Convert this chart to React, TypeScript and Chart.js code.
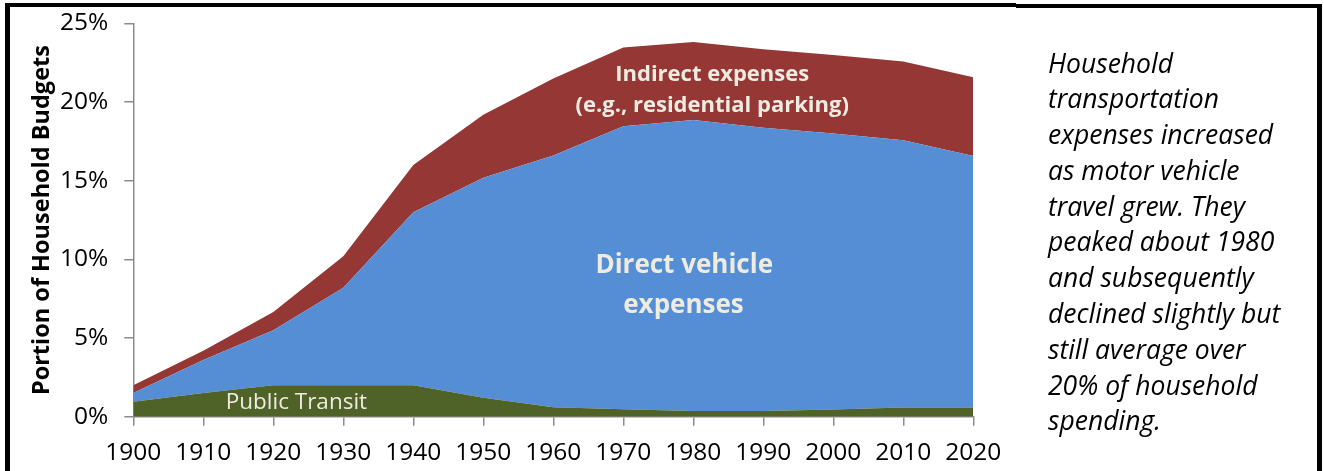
import React, { useEffect, useRef } from "react";
import { Chart, registerables } from "chart.js";

Chart.register(...registerables);

const YEARS = ["1900", "1910", "1920", "1930", "1940", "1950", "1960", "1970", "1980", "1990", "2000", "2010", "2020"];
const PUBLIC_TRANSIT = [0.95, 1.5, 2.0, 2.0, 2.0, 1.2, 0.6, 0.47, 0.37, 0.37, 0.45, 0.58, 0.58];
const DIRECT_VEHICLE = [0.55, 2.1, 3.5, 6.2, 11.0, 14.0, 16.0, 18.0, 18.5, 18.0, 17.55, 17.0, 16.0];
const INDIRECT = [0.5, 0.6, 1.15, 2.0, 3.0, 4.0, 4.9, 5.0, 4.95, 5.0, 5.0, 5.0, 5.0];
const Y_MAX = 25;
const Y_STEP = 5;

const SIDE_NOTE = [
  "Household",
  "transportation",
  "expenses increased",
  "as motor vehicle",
  "travel grew. They",
  "peaked about 1980",
  "and subsequently",
  "declined slightly but",
  "still average over",
  "20% of household",
  "spending.",
];

// area labels placed in data coordinates (x = category index, y = value)
const AREA_LABELS = [
  { text: "Indirect expenses", x: 8.27, y: 21.36, font: "bold 22px 'Open Sans'" },
  { text: "(e.g., residential parking)", x: 8.27, y: 19.39, font: "bold 22px 'Open Sans'" },
  { text: "Direct vehicle", x: 7.87, y: 9.12, font: "bold 26px 'Open Sans'" },
  { text: "expenses", x: 7.86, y: 6.61, font: "bold 26px 'Open Sans'" },
  { text: "Public Transit", x: 2.33, y: 0.47, font: "22.5px 'Open Sans'" },
];

const areaLabelPlugin = {
  id: "areaLabels",
  afterDatasetsDraw(chart: any) {
    const { ctx, scales } = chart;
    ctx.save();
    ctx.fillStyle = "#EEECE1";
    ctx.textAlign = "center";
    ctx.textBaseline = "alphabetic";
    for (const l of AREA_LABELS) {
      ctx.font = l.font;
      ctx.fillText(l.text, scales.x.getPixelForValue(l.x), scales.y.getPixelForValue(l.y));
    }
    ctx.restore();
  },
};

export default function App() {
  const ref = useRef<HTMLCanvasElement | null>(null);

  useEffect(() => {
    if (!ref.current) return;
    const chart = new Chart(ref.current, {
      type: "line",
      data: {
        labels: YEARS,
        datasets: [
          {
            label: "Public Transit",
            data: PUBLIC_TRANSIT,
            backgroundColor: "#4F6228",
            borderColor: "rgba(0,0,0,0)",
            borderWidth: 0,
            pointRadius: 0,
            fill: "origin",
            tension: 0,
          },
          {
            label: "Direct vehicle expenses",
            data: DIRECT_VEHICLE,
            backgroundColor: "#558ED5",
            borderColor: "rgba(0,0,0,0)",
            borderWidth: 0,
            pointRadius: 0,
            fill: "-1",
            tension: 0,
          },
          {
            label: "Indirect expenses",
            data: INDIRECT,
            backgroundColor: "#953735",
            borderColor: "rgba(0,0,0,0)",
            borderWidth: 0,
            pointRadius: 0,
            fill: "-1",
            tension: 0,
          },
        ],
      },
      options: {
        responsive: false,
        animation: false,
        devicePixelRatio: 1,
        layout: { padding: { top: 23.5, right: 350.7, bottom: 0, left: 0 } },
        plugins: {
          legend: { display: false },
          tooltip: { enabled: false },
          title: { display: false },
        },
        scales: {
          x: {
            type: "category",
            offset: false,
            afterFit: (s: any) => {
              s.height = 54.3;
            },
            grid: {
              drawOnChartArea: false,
              drawTicks: true,
              tickLength: 9,
              color: "#8C8C8C",
              lineWidth: 1.5,
              offset: false,
            },
            border: { color: "#8C8C8C", width: 1.5 },
            ticks: {
              color: "#000000",
              font: { family: "'Open Sans'", size: 24.5 },
              padding: 13,
              maxRotation: 0,
              autoSkip: false,
            },
          },
          y: {
            stacked: true,
            min: 0,
            max: Y_MAX,
            afterFit: (s: any) => {
              s.width = 133.3;
              s.paddingTop = 0;
              s.paddingBottom = 0;
            },
            grid: {
              drawOnChartArea: false,
              drawTicks: true,
              tickLength: 9,
              color: "#8C8C8C",
              lineWidth: 1.5,
            },
            border: { color: "#8C8C8C", width: 1.5 },
            ticks: {
              stepSize: Y_STEP,
              color: "#000000",
              font: { family: "'Open Sans'", size: 24.5 },
              padding: 16,
              callback: (v: any) => `${v}%`,
            },
            title: {
              display: true,
              text: "Portion of Household Budgets",
              color: "#000000",
              font: { family: "'Open Sans'", size: 23.5, weight: "bold" },
              padding: { top: 28.6, bottom: 0 },
            },
          },
        },
      },
      plugins: [areaLabelPlugin],
    });
    return () => chart.destroy();
  }, []);

  return (
    <div
      style={{
        position: "fixed",
        left: 0,
        top: 0,
        width: 1324,
        height: 471,
        background: "#ffffff",
        overflow: "hidden",
      }}
    >
      <canvas ref={ref} width={1324} height={471} style={{ position: "absolute", left: 0, top: 0, width: 1324, height: 471 }} />
      <div
        style={{
          position: "absolute",
          left: 1048,
          top: 45.5,
          fontFamily: "'Open Sans'",
          fontStyle: "italic",
          fontSize: 26.5,
          lineHeight: "35.8px",
          color: "#000000",
          whiteSpace: "nowrap",
        }}
      >
        {SIDE_NOTE.map((line, i) => (
          <div key={i}>{line}</div>
        ))}
      </div>
      {/* frame */}
      <div style={{ position: "absolute", left: 5, top: 3, width: 5, height: 468, background: "#000" }} />
      <div style={{ position: "absolute", left: 1317, top: 4, width: 4.5, height: 467, background: "#000" }} />
      <div style={{ position: "absolute", left: 5, top: 3, width: 1011, height: 4, background: "#000" }} />
      <div style={{ position: "absolute", left: 1016, top: 4, width: 305.5, height: 4, background: "#000" }} />
    </div>
  );
}
